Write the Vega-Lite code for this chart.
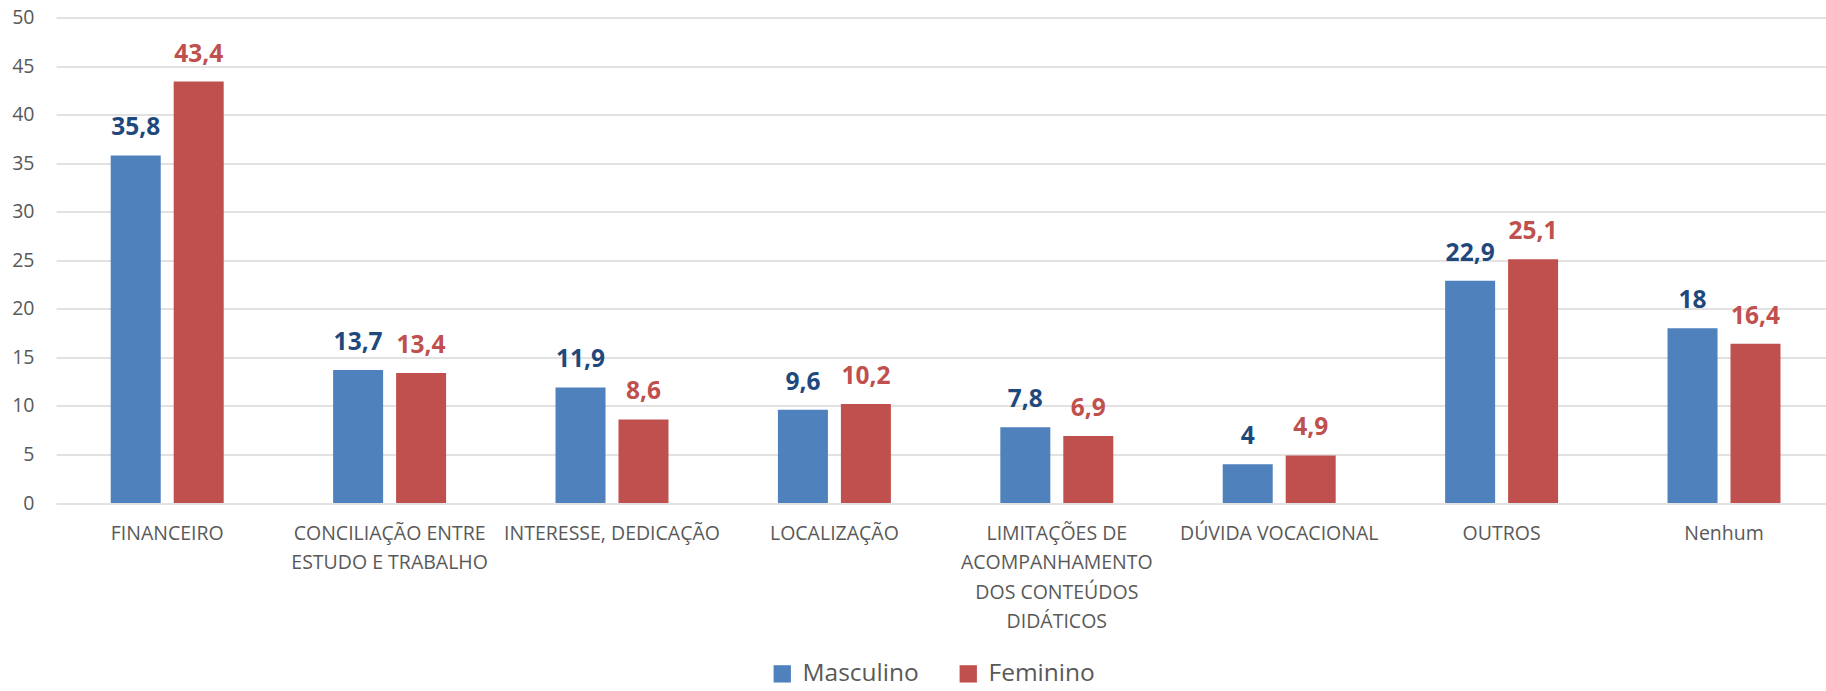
{
  "$schema": "https://vega.github.io/schema/vega-lite/v6.json",
  "autosize": {"type": "none"},
  "width": 1770,
  "height": 485.5,
  "padding": {"left": 56, "top": 17.5, "right": 0, "bottom": 188},
  "background": "white",
  "config": {
    "view": {"stroke": null},
    "font": "Open Sans",
    "locale": {"number": {"decimal": ",", "thousands": ".", "grouping": [3], "currency": ["", ""]}}
  },
  "data": {
    "values": [
      {"categoria": "FINANCEIRO", "sexo": "Masculino", "valor": 35.8},
      {"categoria": "FINANCEIRO", "sexo": "Feminino", "valor": 43.4},
      {"categoria": "CONCILIAÇÃO ENTRE ESTUDO E TRABALHO", "sexo": "Masculino", "valor": 13.7},
      {"categoria": "CONCILIAÇÃO ENTRE ESTUDO E TRABALHO", "sexo": "Feminino", "valor": 13.4},
      {"categoria": "INTERESSE, DEDICAÇÃO", "sexo": "Masculino", "valor": 11.9},
      {"categoria": "INTERESSE, DEDICAÇÃO", "sexo": "Feminino", "valor": 8.6},
      {"categoria": "LOCALIZAÇÃO", "sexo": "Masculino", "valor": 9.6},
      {"categoria": "LOCALIZAÇÃO", "sexo": "Feminino", "valor": 10.2},
      {"categoria": "LIMITAÇÕES DE ACOMPANHAMENTO DOS CONTEÚDOS DIDÁTICOS", "sexo": "Masculino", "valor": 7.8},
      {"categoria": "LIMITAÇÕES DE ACOMPANHAMENTO DOS CONTEÚDOS DIDÁTICOS", "sexo": "Feminino", "valor": 6.9},
      {"categoria": "DÚVIDA VOCACIONAL", "sexo": "Masculino", "valor": 4},
      {"categoria": "DÚVIDA VOCACIONAL", "sexo": "Feminino", "valor": 4.9},
      {"categoria": "OUTROS", "sexo": "Masculino", "valor": 22.9},
      {"categoria": "OUTROS", "sexo": "Feminino", "valor": 25.1},
      {"categoria": "Nenhum", "sexo": "Masculino", "valor": 18},
      {"categoria": "Nenhum", "sexo": "Feminino", "valor": 16.4}
    ]
  },
  "encoding": {
    "x": {
      "field": "categoria",
      "type": "nominal",
      "sort": null,
      "scale": {"paddingInner": 0.492, "paddingOuter": 0.2253, "align": 0.546},
      "axis": {
        "title": null,
        "labelAngle": 0,
        "domain": false,
        "ticks": false,
        "labelPadding": 21,
        "labelFont": "Open Sans",
        "labelFontSize": 19.5,
        "labelColor": "#595959",
        "labelLineHeight": 29.5,
        "labelOverlap": false,
        "labelLimit": 0,
        "labelExpr": "datum.label == 'CONCILIAÇÃO ENTRE ESTUDO E TRABALHO' ? ['CONCILIAÇÃO ENTRE', 'ESTUDO E TRABALHO'] : datum.label == 'LIMITAÇÕES DE ACOMPANHAMENTO DOS CONTEÚDOS DIDÁTICOS' ? ['LIMITAÇÕES DE', 'ACOMPANHAMENTO', 'DOS CONTEÚDOS', 'DIDÁTICOS'] : datum.label"
      }
    },
    "xOffset": {
      "field": "sexo",
      "type": "nominal",
      "sort": ["Masculino", "Feminino"],
      "scale": {"paddingInner": 0.206, "paddingOuter": 0}
    },
    "y": {
      "field": "valor",
      "type": "quantitative",
      "scale": {"domain": [0, 50], "nice": false},
      "axis": {
        "title": null,
        "values": [0, 5, 10, 15, 20, 25, 30, 35, 40, 45, 50],
        "domain": false,
        "ticks": false,
        "grid": true,
        "gridColor": "#D9D9D9",
        "gridWidth": 1.5,
        "labelPadding": 22,
        "labelFont": "Open Sans",
        "labelFontSize": 19.5,
        "labelColor": "#595959"
      }
    }
  },
  "layer": [
    {
      "mark": {"type": "bar"},
      "encoding": {
        "color": {
          "field": "sexo",
          "type": "nominal",
          "sort": ["Masculino", "Feminino"],
          "scale": {"domain": ["Masculino", "Feminino"], "range": ["#4F81BD", "#C0504D"]},
          "legend": {
            "title": null,
            "orient": "none",
            "direction": "horizontal",
            "legendX": 714,
            "legendY": 644,
            "symbolType": "square",
            "symbolSize": 300,
            "symbolStrokeWidth": 0,
            "labelFont": "Open Sans",
            "labelFontSize": 24.5,
            "labelColor": "#595959",
            "labelOffset": 8,
            "columnPadding": 37,
            "padding": 0
          }
        }
      }
    },
    {
      "mark": {"type": "text", "baseline": "alphabetic", "dy": -20, "font": "Open Sans", "fontSize": 24.5, "fontWeight": "bold"},
      "encoding": {
        "text": {"field": "valor", "type": "quantitative", "format": ".1~f"},
        "color": {
          "condition": {"test": "datum.sexo === 'Masculino'", "value": "#1F497D"},
          "value": "#C0504D"
        }
      }
    }
  ]
}
